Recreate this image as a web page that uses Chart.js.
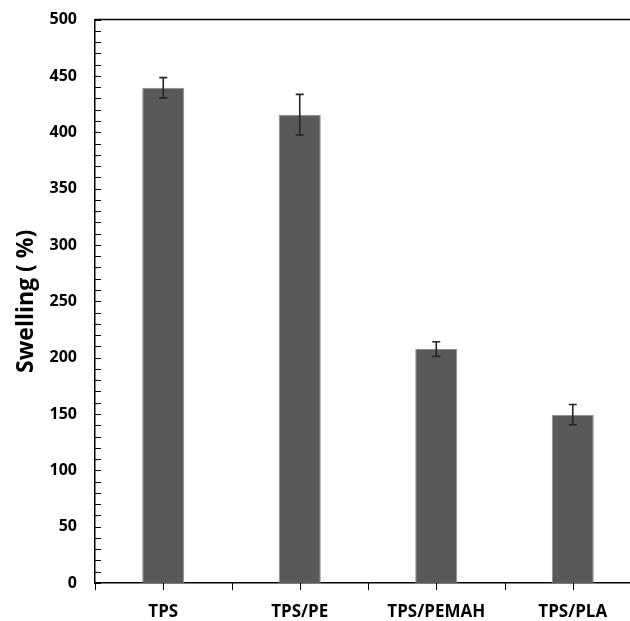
<!DOCTYPE html>
<html lang="en">
  <head>
    <meta charset="UTF-8" />
    <title>Swelling</title>
    <script src="https://cdn.jsdelivr.net/npm/chart.js"></script>
    <style>
      body {
        margin: 0;
        overflow: hidden;
        background: #fff;
      }
      .wrap {
        width: 660px;
        height: 621px;
      }
    </style>
  </head>
  <body>
    <div class="wrap">
      <canvas id="swellChart" width="660" height="621"></canvas>
    </div>

    <script>
      const samples = ["TPS", "TPS/PE", "TPS/PEMAH", "TPS/PLA"];
      const swelling = [439.5, 415.6, 207.6, 149.4];
      const swellingErr = [9, 18, 6.5, 9];
      const yTicks = [0, 50, 100, 150, 200, 250, 300, 350, 400, 450, 500];

      // inward minor ticks, x ticks, top frame line and error bars
      const decorations = {
        id: "decorations",
        afterDatasetsDraw(chart) {
          const { ctx, chartArea } = chart;
          const x = chart.scales.x;
          const y = chart.scales.y;
          ctx.save();
          ctx.strokeStyle = "#000";
          ctx.lineWidth = 1.5;

          // top line
          ctx.beginPath();
          ctx.moveTo(chartArea.left, chartArea.top);
          ctx.lineTo(chartArea.right, chartArea.top);
          ctx.stroke();

          // y ticks every 10, pointing inside
          ctx.lineWidth = 1;
          for (let v = 0; v <= 500; v += 10) {
            const py = Math.round(y.getPixelForValue(v)) + 0.5;
            ctx.beginPath();
            ctx.moveTo(chartArea.left, py);
            ctx.lineTo(chartArea.left + 6, py);
            ctx.stroke();
          }

          // x ticks at category centres and boundaries
          const half = (x.getPixelForValue(1) - x.getPixelForValue(0)) / 2;
          const xs = [];
          samples.forEach((s, i) => {
            const c = x.getPixelForValue(i);
            xs.push(c - half, c);
          });
          xs.forEach((px) => {
            const rx = Math.round(px) + 0.5;
            ctx.beginPath();
            ctx.moveTo(rx, chartArea.bottom);
            ctx.lineTo(rx, chartArea.bottom + 7);
            ctx.stroke();
          });

          // error bars
          ctx.strokeStyle = "#262626";
          ctx.lineWidth = 1.6;
          swelling.forEach((v, i) => {
            const cx = x.getPixelForValue(i);
            const top = y.getPixelForValue(v + swellingErr[i]);
            const bot = y.getPixelForValue(v - swellingErr[i]);
            ctx.beginPath();
            ctx.moveTo(cx, top);
            ctx.lineTo(cx, bot);
            ctx.moveTo(cx - 4, top);
            ctx.lineTo(cx + 4, top);
            ctx.moveTo(cx - 4, bot);
            ctx.lineTo(cx + 4, bot);
            ctx.stroke();
          });
          ctx.restore();
        },
      };

      new Chart(document.getElementById("swellChart").getContext("2d"), {
        type: "bar",
        data: {
          labels: samples,
          datasets: [
            {
              label: "Swelling",
              data: swelling,
              backgroundColor: "#595959",
              borderColor: "#8c8c8c",
              borderWidth: 1,
              categoryPercentage: 1,
              barPercentage: 0.308,
            },
          ],
        },
        options: {
          responsive: false,
          animation: false,
          layout: {
            padding: { left: 0, top: 11, right: 19, bottom: 0 },
          },
          plugins: {
            legend: { display: false },
            tooltip: { enabled: false },
          },
          scales: {
            x: {
              grid: { display: false },
              border: { display: true, color: "#000", width: 1.5 },
              ticks: {
                color: "#000",
                padding: 11,
                maxRotation: 0,
                font: { family: "Open Sans", weight: "bold", size: 17 },
              },
              afterFit(scale) {
                scale.height = 38;
              },
            },
            y: {
              min: 0,
              max: 500,
              grid: { display: false },
              border: { display: true, color: "#000", width: 1.5 },
              afterBuildTicks(scale) {
                scale.ticks = yTicks.map((v) => ({ value: v }));
              },
              ticks: {
                color: "#000",
                padding: 10,
                font: { family: "Open Sans", weight: "bold", size: 16 },
              },
              title: {
                display: true,
                text: "Swelling ( %)",
                color: "#000",
                padding: { top: 13, bottom: 0 },
                font: { family: "Open Sans", weight: "bold", size: 23 },
              },
              afterFit(scale) {
                scale.width = 95;
              },
            },
          },
        },
        plugins: [decorations],
      });
    </script>
  </body>
</html>
